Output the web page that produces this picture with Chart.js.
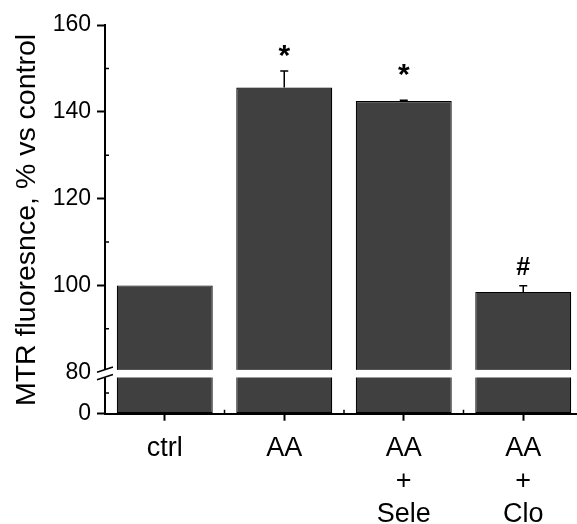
<!DOCTYPE html>
<html>
<head>
<meta charset="utf-8">
<script src="https://cdn.jsdelivr.net/npm/chart.js@4/dist/chart.umd.min.js"></script>
<style>
  html, body { margin: 0; padding: 0; background: #fff; overflow: hidden; }
  #wrap { width: 584px; height: 524px; }
</style>
</head>
<body>
<div id="wrap"><canvas id="c" width="584" height="524"></canvas></div>
<script>
// Groups, mean MTR fluorescence (% of control) and SEM
const categories = [['ctrl'], ['AA'], ['AA', '+', 'Sele'], ['AA', '+', 'Clo']];
const means = [100, 145.6, 142.5, 98.5];
const sems = [0, 3.8, 0.15, 1.4];
const marks = ['', '*', '*', '#'];

// Broken value axis: a short 0–80 segment below a 80–160 segment
const breakValue = 80;
const lowerTicks = [0];
const upperTicks = [80, 100, 120, 140, 160];
const lowerMinor = [40];
const upperMinor = [90, 110, 130, 150];

const FONT = '"Liberation Sans", Arial, Helvetica, sans-serif';
const BAR_FILL = '#404040';
const markGap = [0, 20.5, 30, 19.7];   // px from top of error bar to symbol centre
const markSize = { '*': 30, '#': 25 };

const lowerPart = means.map(v => Math.min(v, breakValue));
const upperPart = means.map(v => [breakValue, v]);

const decorations = {
  id: 'decorations',
  afterDraw(chart) {
    const ctx = chart.ctx;
    const x = chart.scales.x, yHi = chart.scales.yHigh, yLo = chart.scales.yLow;
    const axisX = chart.chartArea.left;
    const barMeta = chart.getDatasetMeta(1);
    ctx.save();

    // minor ticks, pointing inward
    ctx.strokeStyle = '#000';
    ctx.lineWidth = 1.5;
    ctx.beginPath();
    upperMinor.forEach(v => { const p = yHi.getPixelForValue(v); ctx.moveTo(axisX, p); ctx.lineTo(axisX + 4, p); });
    lowerMinor.forEach(v => { const p = yLo.getPixelForValue(v); ctx.moveTo(axisX, p); ctx.lineTo(axisX + 4, p); });
    const axisY = chart.chartArea.bottom;
    const step = x.getPixelForValue(1) - x.getPixelForValue(0);
    for (let i = 0; i < categories.length; i++) {
      const p = x.getPixelForValue(i) + step / 2;
      ctx.moveTo(p, axisY); ctx.lineTo(p, axisY - 4);
    }
    ctx.stroke();

    // error bars (upper half)
    ctx.lineWidth = 1.5;
    means.forEach((m, i) => {
      if (!sems[i]) return;
      const cx = barMeta.data[i].x;
      const y0 = yHi.getPixelForValue(m);
      const y1 = yHi.getPixelForValue(m + sems[i]);
      ctx.beginPath();
      ctx.moveTo(cx, y0); ctx.lineTo(cx, y1);
      ctx.moveTo(cx - 4, y1); ctx.lineTo(cx + 4, y1);
      ctx.stroke();
    });

    // significance symbols
    ctx.fillStyle = '#000';
    ctx.textAlign = 'center';
    ctx.textBaseline = 'alphabetic';
    marks.forEach((s, i) => {
      if (!s) return;
      ctx.font = 'bold ' + markSize[s] + 'px ' + FONT;
      const mt = ctx.measureText(s);
      const cy = yHi.getPixelForValue(means[i] + sems[i]) - markGap[i];
      const base = cy + (mt.actualBoundingBoxAscent - mt.actualBoundingBoxDescent) / 2;
      ctx.fillText(s, barMeta.data[i].x, base);
    });

    // axis break
    const bp = yHi.getPixelForValue(breakValue);
    ctx.fillStyle = '#fff';
    ctx.fillRect(axisX - 3, bp - 2.3, chart.width, 7.6);
    ctx.strokeStyle = '#000';
    ctx.lineWidth = 1.5;
    ctx.beginPath();
    [bp - 2.5, bp + 5].forEach(c => {
      ctx.moveTo(axisX - 8, c + 2.6);
      ctx.lineTo(axisX + 8, c - 2.6);
    });
    ctx.stroke();

    // value axis title
    ctx.save();
    ctx.translate(35, 220);
    ctx.rotate(-Math.PI / 2);
    ctx.font = '28.5px ' + FONT;
    ctx.fillStyle = '#000';
    ctx.textAlign = 'center';
    ctx.textBaseline = 'alphabetic';
    ctx.fillText('MTR fluoresnce, % vs control', 0, 0);
    ctx.restore();

    ctx.restore();
  }
};

const valueAxis = (min, max, ticks) => ({
  type: 'linear',
  position: 'left',
  stack: 'value',
  min, max,
  afterBuildTicks: s => { s.ticks = ticks.map(v => ({ value: v })); },
  afterFit: s => { s.width = 105; },
  grid: {
    drawOnChartArea: false,
    tickLength: 8,
    tickWidth: 2,
    tickColor: c => (c.tick && c.tick.value === breakValue ? 'rgba(0,0,0,0)' : '#000')
  },
  border: { display: true, color: '#000', width: 2 },
  ticks: { color: '#000', padding: 6, font: { family: FONT, size: 23 } }
});

const lower = valueAxis(0, breakValue, lowerTicks);
lower.stackWeight = 41.5;
const upper = valueAxis(breakValue, 160, upperTicks);
upper.stackWeight = 347;

new Chart(document.getElementById('c'), {
  type: 'bar',
  data: {
    labels: categories,
    datasets: [
      { data: lowerPart, yAxisID: 'yLow', backgroundColor: BAR_FILL, borderColor: '#000', borderWidth: 1.2, borderSkipped: false, grouped: false, categoryPercentage: 1, barPercentage: 0.803 },
      { data: upperPart, yAxisID: 'yHigh', backgroundColor: BAR_FILL, borderColor: '#000', borderWidth: 1.2, borderSkipped: false, grouped: false, categoryPercentage: 1, barPercentage: 0.803 }
    ]
  },
  options: {
    responsive: false,
    animation: false,
    devicePixelRatio: 1,
    layout: { padding: { top: 25, right: 1, left: 0, bottom: 0 } },
    plugins: { legend: { display: false }, tooltip: { enabled: false }, title: { display: false } },
    scales: {
      x: {
        type: 'category',
        afterFit: s => { s.height = 110.3; },
        grid: { drawOnChartArea: false, offset: false, tickLength: 7, tickWidth: 2, tickColor: '#000' },
        border: { display: true, color: '#000', width: 2 },
        ticks: { color: '#000', padding: 11, maxRotation: 0, autoSkip: false, font: { family: FONT, size: 27, lineHeight: 1.22 } }
      },
      yLow: lower,
      yHigh: upper
    }
  },
  plugins: [decorations]
});
</script>
</body>
</html>
